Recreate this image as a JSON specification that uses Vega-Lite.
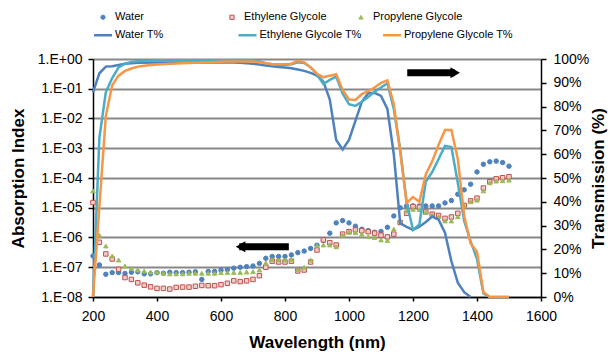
{
"$schema": "https://vega.github.io/schema/vega-lite/v6.json",
"width": 448, "height": 238,
"autosize": {"type": "none"},
"padding": {"left": 93, "top": 59, "right": 70, "bottom": 59},
"background": "white",
"config": {
  "view": {"stroke": null},
  "font": "Liberation Sans",
  "axis": {"labelFont": "Liberation Sans", "titleFont": "Liberation Sans", "labelColor": "black", "titleColor": "black", "domainColor": "black", "tickColor": "black", "labelFontSize": 14, "titleFontSize": 17, "titleFontWeight": "bold", "domainWidth": 1.5, "tickWidth": 1.5},
  "legend": {"labelFont": "Liberation Sans", "labelFontSize": 11, "labelColor": "black"}
},
"datasets": {
"abs": [
{"x":200,"s":"Water","v":2.4e-7},{"x":220,"s":"Water","v":1.2e-7},{"x":240,"s":"Water","v":5.8e-8},{"x":260,"s":"Water","v":6.6e-8},{"x":280,"s":"Water","v":6.6e-8},{"x":300,"s":"Water","v":6.2e-8},{"x":320,"s":"Water","v":6.8e-8},{"x":340,"s":"Water","v":7.0e-8},{"x":360,"s":"Water","v":6.0e-8},{"x":380,"s":"Water","v":6.0e-8},{"x":400,"s":"Water","v":6.6e-8},{"x":420,"s":"Water","v":6.3e-8},{"x":440,"s":"Water","v":6.8e-8},{"x":460,"s":"Water","v":6.6e-8},{"x":480,"s":"Water","v":6.6e-8},{"x":500,"s":"Water","v":6.8e-8},{"x":520,"s":"Water","v":7.0e-8},{"x":540,"s":"Water","v":3.9e-8},{"x":560,"s":"Water","v":7.2e-8},{"x":580,"s":"Water","v":7.2e-8},{"x":600,"s":"Water","v":8.0e-8},{"x":620,"s":"Water","v":8.3e-8},{"x":640,"s":"Water","v":9.3e-8},{"x":660,"s":"Water","v":1.0e-7},{"x":680,"s":"Water","v":1.05e-7},{"x":700,"s":"Water","v":1.1e-7},{"x":720,"s":"Water","v":1.35e-7},{"x":740,"s":"Water","v":2.0e-7},{"x":760,"s":"Water","v":2.3e-7},{"x":780,"s":"Water","v":2.3e-7},{"x":800,"s":"Water","v":2.3e-7},{"x":820,"s":"Water","v":2.6e-7},{"x":840,"s":"Water","v":3.1e-7},{"x":860,"s":"Water","v":3.5e-7},{"x":880,"s":"Water","v":4.3e-7},{"x":900,"s":"Water","v":5.5e-7},{"x":920,"s":"Water","v":8.0e-7},{"x":940,"s":"Water","v":1.4e-6},{"x":960,"s":"Water","v":3.1e-6},{"x":980,"s":"Water","v":3.7e-6},{"x":1000,"s":"Water","v":3.1e-6},{"x":1020,"s":"Water","v":2.4e-6},{"x":1040,"s":"Water","v":1.9e-6},{"x":1060,"s":"Water","v":1.7e-6},{"x":1080,"s":"Water","v":1.5e-6},{"x":1100,"s":"Water","v":1.6e-6},{"x":1120,"s":"Water","v":2.2e-6},{"x":1140,"s":"Water","v":5.3e-6},{"x":1160,"s":"Water","v":1.0e-5},{"x":1180,"s":"Water","v":1.15e-5},{"x":1200,"s":"Water","v":1.15e-5},{"x":1220,"s":"Water","v":1.15e-5},{"x":1240,"s":"Water","v":1.15e-5},{"x":1260,"s":"Water","v":1.15e-5},{"x":1280,"s":"Water","v":1.15e-5},{"x":1300,"s":"Water","v":1.45e-5},{"x":1320,"s":"Water","v":1.75e-5},{"x":1340,"s":"Water","v":2.85e-5},{"x":1360,"s":"Water","v":4.0e-5},{"x":1380,"s":"Water","v":6.2e-5},{"x":1400,"s":"Water","v":1.6e-4},{"x":1420,"s":"Water","v":2.9e-4},{"x":1440,"s":"Water","v":3.5e-4},{"x":1460,"s":"Water","v":3.7e-4},{"x":1480,"s":"Water","v":3.3e-4},{"x":1500,"s":"Water","v":2.5e-4},
{"x":200,"s":"Ethylene Glycole","v":1.5e-5},{"x":220,"s":"Ethylene Glycole","v":6.9e-7},{"x":240,"s":"Ethylene Glycole","v":2.8e-7},{"x":260,"s":"Ethylene Glycole","v":1.9e-7},{"x":280,"s":"Ethylene Glycole","v":8.5e-8},{"x":300,"s":"Ethylene Glycole","v":4.5e-8},{"x":320,"s":"Ethylene Glycole","v":3.9e-8},{"x":340,"s":"Ethylene Glycole","v":3.0e-8},{"x":360,"s":"Ethylene Glycole","v":2.5e-8},{"x":380,"s":"Ethylene Glycole","v":2.2e-8},{"x":400,"s":"Ethylene Glycole","v":1.95e-8},{"x":420,"s":"Ethylene Glycole","v":1.95e-8},{"x":440,"s":"Ethylene Glycole","v":1.85e-8},{"x":460,"s":"Ethylene Glycole","v":2.1e-8},{"x":480,"s":"Ethylene Glycole","v":2.15e-8},{"x":500,"s":"Ethylene Glycole","v":2.15e-8},{"x":520,"s":"Ethylene Glycole","v":2.3e-8},{"x":540,"s":"Ethylene Glycole","v":2.45e-8},{"x":560,"s":"Ethylene Glycole","v":2.4e-8},{"x":580,"s":"Ethylene Glycole","v":2.4e-8},{"x":600,"s":"Ethylene Glycole","v":2.6e-8},{"x":620,"s":"Ethylene Glycole","v":2.9e-8},{"x":640,"s":"Ethylene Glycole","v":3.5e-8},{"x":660,"s":"Ethylene Glycole","v":3.3e-8},{"x":680,"s":"Ethylene Glycole","v":3.5e-8},{"x":700,"s":"Ethylene Glycole","v":3.9e-8},{"x":720,"s":"Ethylene Glycole","v":5.2e-8},{"x":740,"s":"Ethylene Glycole","v":1.0e-7},{"x":760,"s":"Ethylene Glycole","v":1.6e-7},{"x":780,"s":"Ethylene Glycole","v":1.5e-7},{"x":800,"s":"Ethylene Glycole","v":1.5e-7},{"x":820,"s":"Ethylene Glycole","v":1.6e-7},{"x":840,"s":"Ethylene Glycole","v":7.5e-8},{"x":860,"s":"Ethylene Glycole","v":8.1e-8},{"x":880,"s":"Ethylene Glycole","v":1.5e-7},{"x":900,"s":"Ethylene Glycole","v":3.8e-7},{"x":920,"s":"Ethylene Glycole","v":8.3e-7},{"x":940,"s":"Ethylene Glycole","v":6.7e-7},{"x":960,"s":"Ethylene Glycole","v":5.6e-7},{"x":980,"s":"Ethylene Glycole","v":1.3e-6},{"x":1000,"s":"Ethylene Glycole","v":1.57e-6},{"x":1020,"s":"Ethylene Glycole","v":1.8e-6},{"x":1040,"s":"Ethylene Glycole","v":1.7e-6},{"x":1060,"s":"Ethylene Glycole","v":1.57e-6},{"x":1080,"s":"Ethylene Glycole","v":1.4e-6},{"x":1100,"s":"Ethylene Glycole","v":1.2e-6},{"x":1120,"s":"Ethylene Glycole","v":1.05e-6},{"x":1140,"s":"Ethylene Glycole","v":1.3e-6},{"x":1160,"s":"Ethylene Glycole","v":3.2e-6},{"x":1180,"s":"Ethylene Glycole","v":6.5e-6},{"x":1200,"s":"Ethylene Glycole","v":1.1e-5},{"x":1220,"s":"Ethylene Glycole","v":1.05e-5},{"x":1240,"s":"Ethylene Glycole","v":7.2e-6},{"x":1260,"s":"Ethylene Glycole","v":6.1e-6},{"x":1280,"s":"Ethylene Glycole","v":5.5e-6},{"x":1300,"s":"Ethylene Glycole","v":4.4e-6},{"x":1320,"s":"Ethylene Glycole","v":4.9e-6},{"x":1340,"s":"Ethylene Glycole","v":6.5e-6},{"x":1360,"s":"Ethylene Glycole","v":1.2e-5},{"x":1380,"s":"Ethylene Glycole","v":1.7e-5},{"x":1400,"s":"Ethylene Glycole","v":2.1e-5},{"x":1420,"s":"Ethylene Glycole","v":4.6e-5},{"x":1440,"s":"Ethylene Glycole","v":7.5e-5},{"x":1460,"s":"Ethylene Glycole","v":9.4e-5},{"x":1480,"s":"Ethylene Glycole","v":1.02e-4},{"x":1500,"s":"Ethylene Glycole","v":1.1e-4},
{"x":200,"s":"Propylene Glycole","v":3.7e-5},{"x":220,"s":"Propylene Glycole","v":1.2e-6},{"x":240,"s":"Propylene Glycole","v":5.2e-7},{"x":260,"s":"Propylene Glycole","v":2.4e-7},{"x":280,"s":"Propylene Glycole","v":1.75e-7},{"x":300,"s":"Propylene Glycole","v":1.1e-7},{"x":320,"s":"Propylene Glycole","v":9.2e-8},{"x":340,"s":"Propylene Glycole","v":8.1e-8},{"x":360,"s":"Propylene Glycole","v":7.5e-8},{"x":380,"s":"Propylene Glycole","v":6.9e-8},{"x":400,"s":"Propylene Glycole","v":6.9e-8},{"x":420,"s":"Propylene Glycole","v":6.3e-8},{"x":440,"s":"Propylene Glycole","v":6.0e-8},{"x":460,"s":"Propylene Glycole","v":6.0e-8},{"x":480,"s":"Propylene Glycole","v":6.0e-8},{"x":500,"s":"Propylene Glycole","v":6.3e-8},{"x":520,"s":"Propylene Glycole","v":6.3e-8},{"x":540,"s":"Propylene Glycole","v":6.3e-8},{"x":560,"s":"Propylene Glycole","v":6.3e-8},{"x":580,"s":"Propylene Glycole","v":6.3e-8},{"x":600,"s":"Propylene Glycole","v":6.6e-8},{"x":620,"s":"Propylene Glycole","v":6.7e-8},{"x":640,"s":"Propylene Glycole","v":6.7e-8},{"x":660,"s":"Propylene Glycole","v":6.7e-8},{"x":680,"s":"Propylene Glycole","v":6.9e-8},{"x":700,"s":"Propylene Glycole","v":7.1e-8},{"x":720,"s":"Propylene Glycole","v":8.1e-8},{"x":740,"s":"Propylene Glycole","v":1.4e-7},{"x":760,"s":"Propylene Glycole","v":1.8e-7},{"x":780,"s":"Propylene Glycole","v":1.75e-7},{"x":800,"s":"Propylene Glycole","v":1.75e-7},{"x":820,"s":"Propylene Glycole","v":1.85e-7},{"x":840,"s":"Propylene Glycole","v":8.3e-8},{"x":860,"s":"Propylene Glycole","v":1.0e-7},{"x":880,"s":"Propylene Glycole","v":1.75e-7},{"x":900,"s":"Propylene Glycole","v":5.3e-7},{"x":920,"s":"Propylene Glycole","v":5.6e-7},{"x":940,"s":"Propylene Glycole","v":5.6e-7},{"x":960,"s":"Propylene Glycole","v":4.9e-7},{"x":980,"s":"Propylene Glycole","v":1.2e-6},{"x":1000,"s":"Propylene Glycole","v":1.5e-6},{"x":1020,"s":"Propylene Glycole","v":1.45e-6},{"x":1040,"s":"Propylene Glycole","v":1.3e-6},{"x":1060,"s":"Propylene Glycole","v":1.07e-6},{"x":1080,"s":"Propylene Glycole","v":1.0e-6},{"x":1100,"s":"Propylene Glycole","v":8.3e-7},{"x":1120,"s":"Propylene Glycole","v":8.0e-7},{"x":1140,"s":"Propylene Glycole","v":1.9e-6},{"x":1160,"s":"Propylene Glycole","v":3.7e-6},{"x":1180,"s":"Propylene Glycole","v":7.8e-6},{"x":1200,"s":"Propylene Glycole","v":8.9e-6},{"x":1220,"s":"Propylene Glycole","v":8.6e-6},{"x":1240,"s":"Propylene Glycole","v":6.9e-6},{"x":1260,"s":"Propylene Glycole","v":5.7e-6},{"x":1280,"s":"Propylene Glycole","v":5.0e-6},{"x":1300,"s":"Propylene Glycole","v":3.6e-6},{"x":1320,"s":"Propylene Glycole","v":3.6e-6},{"x":1340,"s":"Propylene Glycole","v":5.0e-6},{"x":1360,"s":"Propylene Glycole","v":1.15e-5},{"x":1380,"s":"Propylene Glycole","v":1.6e-5},{"x":1400,"s":"Propylene Glycole","v":1.8e-5},{"x":1420,"s":"Propylene Glycole","v":3.7e-5},{"x":1440,"s":"Propylene Glycole","v":6.9e-5},{"x":1460,"s":"Propylene Glycole","v":7.9e-5},{"x":1480,"s":"Propylene Glycole","v":8.1e-5},{"x":1500,"s":"Propylene Glycole","v":8.5e-5}
],
"trans": [
{"x":200,"s":"Water T%","t":86},{"x":220,"s":"Water T%","t":94},{"x":240,"s":"Water T%","t":96.8},{"x":260,"s":"Water T%","t":97},{"x":280,"s":"Water T%","t":97.5},{"x":300,"s":"Water T%","t":98},{"x":320,"s":"Water T%","t":98.2},{"x":340,"s":"Water T%","t":98.4},{"x":400,"s":"Water T%","t":98.5},{"x":500,"s":"Water T%","t":98.5},{"x":600,"s":"Water T%","t":98.5},{"x":640,"s":"Water T%","t":98.5},{"x":660,"s":"Water T%","t":98.4},{"x":680,"s":"Water T%","t":98.2},{"x":700,"s":"Water T%","t":98},{"x":720,"s":"Water T%","t":97.7},{"x":740,"s":"Water T%","t":97.3},{"x":760,"s":"Water T%","t":96.9},{"x":780,"s":"Water T%","t":96.6},{"x":800,"s":"Water T%","t":96.4},{"x":820,"s":"Water T%","t":96.1},{"x":840,"s":"Water T%","t":95.6},{"x":860,"s":"Water T%","t":95},{"x":880,"s":"Water T%","t":94.2},{"x":900,"s":"Water T%","t":93},{"x":920,"s":"Water T%","t":90.5},{"x":940,"s":"Water T%","t":83},{"x":960,"s":"Water T%","t":66},{"x":980,"s":"Water T%","t":62},{"x":1000,"s":"Water T%","t":66},{"x":1020,"s":"Water T%","t":74},{"x":1040,"s":"Water T%","t":82},{"x":1060,"s":"Water T%","t":85.6},{"x":1080,"s":"Water T%","t":85.8},{"x":1100,"s":"Water T%","t":84.5},{"x":1120,"s":"Water T%","t":79},{"x":1140,"s":"Water T%","t":60},{"x":1160,"s":"Water T%","t":31},{"x":1180,"s":"Water T%","t":29.5},{"x":1200,"s":"Water T%","t":28.2},{"x":1220,"s":"Water T%","t":29.5},{"x":1240,"s":"Water T%","t":31.5},{"x":1260,"s":"Water T%","t":33.8},{"x":1280,"s":"Water T%","t":32.5},{"x":1300,"s":"Water T%","t":27},{"x":1320,"s":"Water T%","t":15},{"x":1340,"s":"Water T%","t":6},{"x":1360,"s":"Water T%","t":2},{"x":1380,"s":"Water T%","t":0},
{"x":200,"s":"Ethylene Glycole T%","t":0},{"x":220,"s":"Ethylene Glycole T%","t":67},{"x":240,"s":"Ethylene Glycole T%","t":86},{"x":260,"s":"Ethylene Glycole T%","t":92},{"x":280,"s":"Ethylene Glycole T%","t":96.5},{"x":300,"s":"Ethylene Glycole T%","t":98},{"x":320,"s":"Ethylene Glycole T%","t":98.8},{"x":340,"s":"Ethylene Glycole T%","t":99.1},{"x":360,"s":"Ethylene Glycole T%","t":99.3},{"x":400,"s":"Ethylene Glycole T%","t":99.5},{"x":500,"s":"Ethylene Glycole T%","t":99.5},{"x":600,"s":"Ethylene Glycole T%","t":99.5},{"x":700,"s":"Ethylene Glycole T%","t":99.5},{"x":720,"s":"Ethylene Glycole T%","t":99},{"x":740,"s":"Ethylene Glycole T%","t":98.2},{"x":760,"s":"Ethylene Glycole T%","t":97.6},{"x":780,"s":"Ethylene Glycole T%","t":97.5},{"x":800,"s":"Ethylene Glycole T%","t":97.5},{"x":820,"s":"Ethylene Glycole T%","t":97.8},{"x":840,"s":"Ethylene Glycole T%","t":98.6},{"x":860,"s":"Ethylene Glycole T%","t":98.3},{"x":880,"s":"Ethylene Glycole T%","t":96.5},{"x":900,"s":"Ethylene Glycole T%","t":93.5},{"x":920,"s":"Ethylene Glycole T%","t":89.5},{"x":940,"s":"Ethylene Glycole T%","t":91.2},{"x":960,"s":"Ethylene Glycole T%","t":92.6},{"x":980,"s":"Ethylene Glycole T%","t":85.5},{"x":1000,"s":"Ethylene Glycole T%","t":81},{"x":1020,"s":"Ethylene Glycole T%","t":80.3},{"x":1040,"s":"Ethylene Glycole T%","t":82},{"x":1060,"s":"Ethylene Glycole T%","t":84},{"x":1080,"s":"Ethylene Glycole T%","t":86.3},{"x":1100,"s":"Ethylene Glycole T%","t":88},{"x":1120,"s":"Ethylene Glycole T%","t":89.8},{"x":1140,"s":"Ethylene Glycole T%","t":79},{"x":1160,"s":"Ethylene Glycole T%","t":62},{"x":1180,"s":"Ethylene Glycole T%","t":40},{"x":1200,"s":"Ethylene Glycole T%","t":28.2},{"x":1220,"s":"Ethylene Glycole T%","t":30.5},{"x":1240,"s":"Ethylene Glycole T%","t":48.5},{"x":1260,"s":"Ethylene Glycole T%","t":52.5},{"x":1280,"s":"Ethylene Glycole T%","t":58},{"x":1300,"s":"Ethylene Glycole T%","t":63.5},{"x":1320,"s":"Ethylene Glycole T%","t":63},{"x":1340,"s":"Ethylene Glycole T%","t":48},{"x":1360,"s":"Ethylene Glycole T%","t":32},{"x":1380,"s":"Ethylene Glycole T%","t":23.5},{"x":1400,"s":"Ethylene Glycole T%","t":16},{"x":1420,"s":"Ethylene Glycole T%","t":1.5},{"x":1440,"s":"Ethylene Glycole T%","t":0},{"x":1460,"s":"Ethylene Glycole T%","t":0},{"x":1480,"s":"Ethylene Glycole T%","t":0},{"x":1500,"s":"Ethylene Glycole T%","t":0},
{"x":200,"s":"Propylene Glycole T%","t":0},{"x":220,"s":"Propylene Glycole T%","t":38},{"x":240,"s":"Propylene Glycole T%","t":76},{"x":260,"s":"Propylene Glycole T%","t":89},{"x":280,"s":"Propylene Glycole T%","t":93},{"x":300,"s":"Propylene Glycole T%","t":95},{"x":320,"s":"Propylene Glycole T%","t":96},{"x":340,"s":"Propylene Glycole T%","t":96.8},{"x":360,"s":"Propylene Glycole T%","t":97.2},{"x":380,"s":"Propylene Glycole T%","t":97.5},{"x":400,"s":"Propylene Glycole T%","t":97.7},{"x":440,"s":"Propylene Glycole T%","t":98},{"x":500,"s":"Propylene Glycole T%","t":98.3},{"x":560,"s":"Propylene Glycole T%","t":98.6},{"x":620,"s":"Propylene Glycole T%","t":98.9},{"x":700,"s":"Propylene Glycole T%","t":98.9},{"x":720,"s":"Propylene Glycole T%","t":98.6},{"x":740,"s":"Propylene Glycole T%","t":98.2},{"x":760,"s":"Propylene Glycole T%","t":97.9},{"x":780,"s":"Propylene Glycole T%","t":97.8},{"x":800,"s":"Propylene Glycole T%","t":97.8},{"x":820,"s":"Propylene Glycole T%","t":98},{"x":840,"s":"Propylene Glycole T%","t":99.2},{"x":860,"s":"Propylene Glycole T%","t":98.6},{"x":880,"s":"Propylene Glycole T%","t":96.5},{"x":900,"s":"Propylene Glycole T%","t":93.8},{"x":920,"s":"Propylene Glycole T%","t":92.3},{"x":940,"s":"Propylene Glycole T%","t":93},{"x":960,"s":"Propylene Glycole T%","t":93.6},{"x":980,"s":"Propylene Glycole T%","t":87},{"x":1000,"s":"Propylene Glycole T%","t":83},{"x":1020,"s":"Propylene Glycole T%","t":82.8},{"x":1040,"s":"Propylene Glycole T%","t":85.3},{"x":1060,"s":"Propylene Glycole T%","t":86.5},{"x":1080,"s":"Propylene Glycole T%","t":88},{"x":1100,"s":"Propylene Glycole T%","t":90},{"x":1120,"s":"Propylene Glycole T%","t":91},{"x":1140,"s":"Propylene Glycole T%","t":81},{"x":1160,"s":"Propylene Glycole T%","t":61},{"x":1180,"s":"Propylene Glycole T%","t":39.5},{"x":1200,"s":"Propylene Glycole T%","t":42},{"x":1220,"s":"Propylene Glycole T%","t":40},{"x":1240,"s":"Propylene Glycole T%","t":51.5},{"x":1260,"s":"Propylene Glycole T%","t":57},{"x":1280,"s":"Propylene Glycole T%","t":64},{"x":1300,"s":"Propylene Glycole T%","t":70.2},{"x":1320,"s":"Propylene Glycole T%","t":70.2},{"x":1340,"s":"Propylene Glycole T%","t":58},{"x":1360,"s":"Propylene Glycole T%","t":34},{"x":1380,"s":"Propylene Glycole T%","t":22.5},{"x":1400,"s":"Propylene Glycole T%","t":19},{"x":1420,"s":"Propylene Glycole T%","t":2},{"x":1440,"s":"Propylene Glycole T%","t":0},{"x":1460,"s":"Propylene Glycole T%","t":0},{"x":1480,"s":"Propylene Glycole T%","t":0},{"x":1500,"s":"Propylene Glycole T%","t":0}
],
"arrows": [
{"dir":"right","x1":1182,"x2":1330,"hx":1332,"y":94.2},
{"dir":"left","x1":657,"x2":812,"hx":661,"y":21.1}
]
},
"layer": [
{
  "data": {"name": "abs"},
  "mark": {"type": "point", "filled": true, "size": 20, "strokeWidth": 1, "opacity": 1},
  "encoding": {
    "x": {"field": "x", "type": "quantitative", "scale": {"domain": [200, 1600], "nice": false, "zero": false},
      "axis": {"title": "Wavelength (nm)", "values": [200,400,600,800,1000,1200,1400,1600], "format": "d", "grid": false, "labelFlush": false, "labelOverlap": false, "tickSize": 4, "labelPadding": 8, "titlePadding": 11}},
    "y": {"field": "v", "type": "quantitative", "scale": {"type": "log", "domain": [1e-8, 1], "nice": false},
      "axis": {"orient": "left", "title": "Absorption Index", "values": [1e-8,1e-7,1e-6,1e-5,1e-4,1e-3,1e-2,1e-1,1], "labelExpr": "'1.E' + (datum.value >= 0.5 ? '+00' : '-0' + format(-log(datum.value)/LN10, '.0f'))", "labelOverlap": false, "grid": true, "gridColor": "#888888", "gridWidth": 2, "tickSize": 5, "labelPadding": 6, "titlePadding": 10}},
    "shape": {"field": "s", "type": "nominal", "scale": {"domain": ["Water","Ethylene Glycole","Propylene Glycole"], "range": ["circle","square","triangle-up"]},
      "legend": {"title": null, "orient": "none", "legendX": 4.5, "legendY": -47.5, "direction": "horizontal", "columns": 3, "gridAlign": "all", "columnPadding": 22, "padding": 0, "symbolSize": 18, "symbolStrokeWidth": 1, "labelOffset": 6.5, "labelFontSize": 11}},
    "fill": {"field": "s", "type": "nominal", "scale": {"domain": ["Water","Ethylene Glycole","Propylene Glycole"], "range": ["#4F81BD","#EFCFCE","#9BBB59"]},
      "legend": {"title": null, "orient": "none", "legendX": 4.5, "legendY": -47.5, "direction": "horizontal", "columns": 3, "gridAlign": "all", "columnPadding": 22, "padding": 0, "symbolSize": 18, "symbolStrokeWidth": 1, "labelOffset": 6.5, "labelFontSize": 11}},
    "stroke": {"field": "s", "type": "nominal", "scale": {"domain": ["Water","Ethylene Glycole","Propylene Glycole"], "range": ["#4F81BD","#C0504D","#9BBB59"]},
      "legend": {"title": null, "orient": "none", "legendX": 4.5, "legendY": -47.5, "direction": "horizontal", "columns": 3, "gridAlign": "all", "columnPadding": 22, "padding": 0, "symbolSize": 18, "symbolStrokeWidth": 1, "labelOffset": 6.5, "labelFontSize": 11}}
  }
},
{
  "layer": [
    {
      "data": {"name": "trans"},
      "mark": {"type": "line", "strokeWidth": 2.5},
      "encoding": {
        "x": {"field": "x", "type": "quantitative"},
        "y": {"field": "t", "type": "quantitative", "scale": {"domain": [0, 100], "nice": false, "zero": true},
          "axis": {"orient": "right", "title": "Transmission (%)", "values": [0,10,20,30,40,50,60,70,80,90,100], "labelExpr": "datum.value + '%'", "grid": false, "tickSize": 5, "labelPadding": 7, "titlePadding": 2, "titleAngle": 270, "titleBaseline": "top", "labelOverlap": false}},
        "color": {"field": "s", "type": "nominal", "scale": {"domain": ["Water T%","Ethylene Glycole T%","Propylene Glycole T%"], "range": ["#4F81BD","#4BACC6","#F79646"]},
          "legend": {"title": null, "orient": "none", "legendX": -0.5, "legendY": -34.5, "direction": "horizontal", "columns": 3, "gridAlign": "all", "columnPadding": 8.5, "padding": 0, "symbolType": "stroke", "symbolSize": 324, "symbolStrokeWidth": 2.5, "labelOffset": 1.5, "labelFontSize": 11}}
      }
    },
    {
      "data": {"name": "arrows"},
      "mark": {"type": "rule", "strokeWidth": 7, "color": "black", "strokeCap": "butt"},
      "encoding": {
        "x": {"field": "x1", "type": "quantitative"},
        "x2": {"field": "x2"},
        "y": {"field": "y", "type": "quantitative",
          "axis": {"orient": "right", "title": "Transmission (%)", "values": [0,10,20,30,40,50,60,70,80,90,100], "labelExpr": "datum.value + '%'", "grid": false, "tickSize": 5, "labelPadding": 7, "titlePadding": 2, "titleAngle": 270, "titleBaseline": "top", "labelOverlap": false}}
      }
    },
    {
      "data": {"name": "arrows"},
      "transform": [{"filter": "datum.dir === 'right'"}],
      "mark": {"type": "point", "shape": "triangle-right", "filled": true, "color": "black", "size": 121, "opacity": 1},
      "encoding": {
        "x": {"field": "hx", "type": "quantitative"},
        "y": {"field": "y", "type": "quantitative",
          "axis": {"orient": "right", "title": "Transmission (%)", "values": [0,10,20,30,40,50,60,70,80,90,100], "labelExpr": "datum.value + '%'", "grid": false, "tickSize": 5, "labelPadding": 7, "titlePadding": 2, "titleAngle": 270, "titleBaseline": "top", "labelOverlap": false}}
      }
    },
    {
      "data": {"name": "arrows"},
      "transform": [{"filter": "datum.dir === 'left'"}],
      "mark": {"type": "point", "shape": "triangle-left", "filled": true, "color": "black", "size": 121, "opacity": 1},
      "encoding": {
        "x": {"field": "hx", "type": "quantitative"},
        "y": {"field": "y", "type": "quantitative",
          "axis": {"orient": "right", "title": "Transmission (%)", "values": [0,10,20,30,40,50,60,70,80,90,100], "labelExpr": "datum.value + '%'", "grid": false, "tickSize": 5, "labelPadding": 7, "titlePadding": 2, "titleAngle": 270, "titleBaseline": "top", "labelOverlap": false}}
      }
    }
  ]
}
],
"resolve": {"scale": {"y": "independent"}}
}
